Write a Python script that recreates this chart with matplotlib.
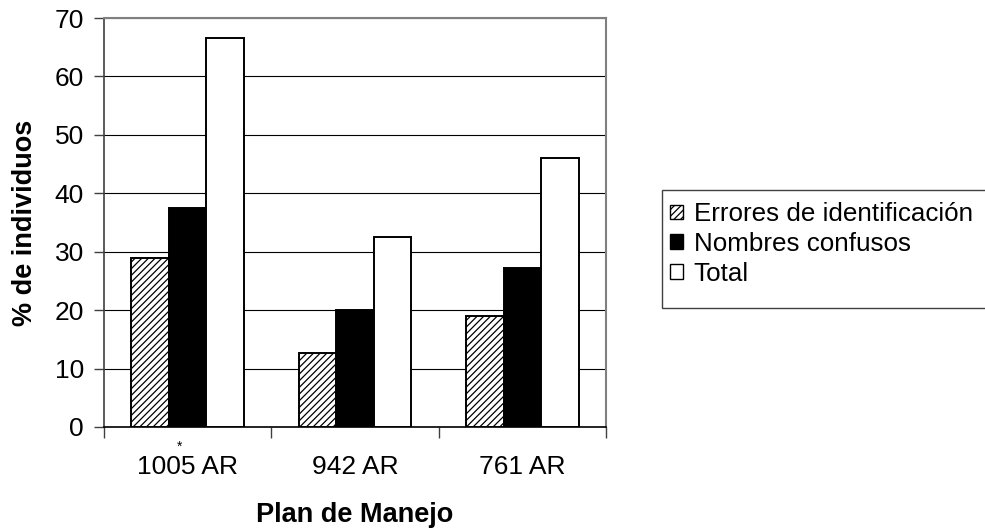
import matplotlib
matplotlib.use("Agg")
import matplotlib.pyplot as plt
import matplotlib.patches as mpatches
import numpy as np

categories = ['1005 AR', '942 AR', '761 AR']
series_names = ['Errores de identificación', 'Nombres confusos', 'Total']
errores = [29.0, 12.6, 19.0]
nombres = [37.5, 20.1, 27.2]
total = [66.5, 32.5, 46.1]
yticks = [0, 10, 20, 30, 40, 50, 60, 70]

plt.rcParams['font.family'] = ['Liberation Sans', 'DejaVu Sans']
plt.rcParams['hatch.linewidth'] = 0.9

fig = plt.figure(figsize=(9.85, 5.29), dpi=100)
ax = fig.add_axes([104/985, 1-427/529, 502/985, 409/529])

x = np.arange(len(categories))
w = 0.225
lw = 1.4
b1 = ax.bar(x - w, errores, w, facecolor='white', edgecolor='black', hatch='/////', linewidth=lw, zorder=3)
b2 = ax.bar(x, nombres, w, facecolor='black', edgecolor='black', linewidth=lw, zorder=3)
b3 = ax.bar(x + w, total, w, facecolor='white', edgecolor='black', linewidth=lw, zorder=3)

ax.set_xlim(-0.5, len(categories) - 0.5)
ax.set_ylim(0, 70)
ax.set_yticks(yticks)
ax.yaxis.grid(True, color='black', linewidth=0.8, zorder=0)
ax.set_axisbelow(True)

ax.set_xticks(np.arange(-0.5, len(categories), 1.0))
ax.set_xticklabels([])
ax.set_xticks(x, minor=True)
ax.set_xticklabels(categories, minor=True)
ax.tick_params(axis='x', which='major', direction='out', length=8, width=1, color='#404040')
ax.tick_params(axis='x', which='minor', length=0, pad=20, labelsize=19)
ax.tick_params(axis='y', direction='out', length=7, width=1, color='#404040', pad=7.5, labelsize=19)

for s in ['top', 'right']:
    ax.spines[s].set_color('#808080')
    ax.spines[s].set_linewidth(1.5)
ax.spines['left'].set_color('#404040')
ax.spines['left'].set_linewidth(1.2)
ax.spines['bottom'].set_color('black')
ax.spines['bottom'].set_linewidth(1.2)

ax.set_ylabel('% de individuos', fontsize=19.5, fontweight='bold', va='center')
ax.yaxis.set_label_coords(-0.157, 0.5)
ax.set_xlabel('Plan de Manejo', fontsize=19.5, fontweight='bold')
ax.xaxis.set_label_coords(0.5, -0.215)
ax.xaxis.label.set_va('center')

# legend frame (extends beyond figure edge like the reference)
rect = mpatches.Rectangle((662/985, 1-308/529), 340/985, 118/529, transform=fig.transFigure,
                          facecolor='white', edgecolor='#404040', linewidth=1.0, clip_on=False)
fig.patches.append(rect)
leg = fig.legend([b1, b2, b3], series_names, loc='upper left',
                 bbox_to_anchor=(652/985, 1-184/529), frameon=False, fontsize=18.7,
                 handlelength=0.5, handleheight=0.5, handletextpad=0.4, labelspacing=0.22,
                 borderpad=0.2)
for h in leg.legend_handles:
    h.set_linewidth(1.0)

fig.text(180/985, 1-447/529, '*', fontsize=10, ha='center', va='center')

fig.savefig('out.png', dpi=100)
